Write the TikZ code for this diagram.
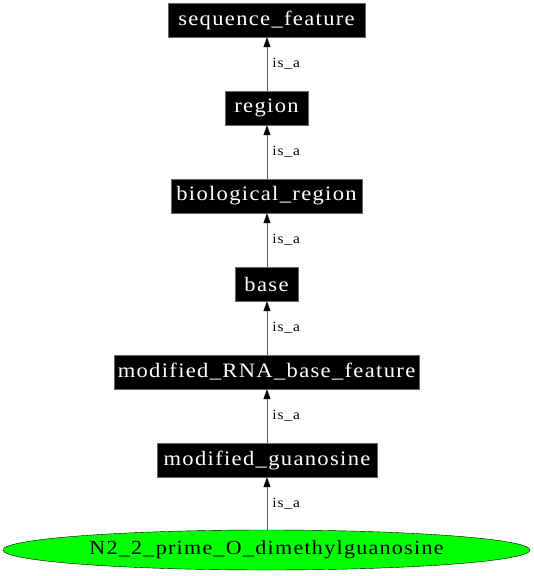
\documentclass[tikz,border=0pt]{standalone}
\usepackage{fontspec}
\setmainfont{Liberation Serif}[FakeStretch=1.1,LetterSpace=6.5]
\usetikzlibrary{arrows.meta,shapes.geometric}
\begin{document}
\begin{tikzpicture}[x=1pt,y=-1pt,
  termbox/.style={rectangle,fill=black,draw=black!60,text=white,font=\fontsize{20.5}{23}\selectfont,minimum height=34pt,inner sep=0pt},
  leafnode/.style={ellipse,fill=green,draw=black,font=\fontsize{20}{23}\selectfont,minimum width=527pt,minimum height=40pt,inner sep=0pt},
  isaedge/.style={draw=black!65,line width=0.9pt,-{Triangle[length=10pt,width=7pt,color=black]}},
  isalabel/.style={font=\fontsize{14}{16}\selectfont,anchor=west,inner sep=0pt}]
\useasboundingbox (0,0) rectangle (534,576);
\node[termbox,minimum width=197pt] (sf) at (266.5,20) {sequence\_feature};
\node[termbox,minimum width=83pt] (rg) at (266.5,108) {region};
\node[termbox,minimum width=191pt] (br) at (266.5,196) {biological\_region};
\node[termbox,minimum width=63pt] (bs) at (266.5,284) {base};
\node[termbox,minimum width=305pt] (mr) at (266.5,372) {modified\_RNA\_base\_feature};
\node[termbox,minimum width=220pt] (mg) at (267,460) {modified\_guanosine};
\node[leafnode] (n2) at (266.5,550) {N2\_2\_prime\_O\_dimethylguanosine};
\draw[isaedge] (rg.north -| 267,0) -- (sf.south -| 267,0) node[isalabel,pos=0.5,xshift=5pt] {is\_a};
\draw[isaedge] (br.north -| 267,0) -- (rg.south -| 267,0) node[isalabel,pos=0.5,xshift=5pt] {is\_a};
\draw[isaedge] (bs.north -| 267,0) -- (br.south -| 267,0) node[isalabel,pos=0.5,xshift=5pt] {is\_a};
\draw[isaedge] (mr.north -| 267,0) -- (bs.south -| 267,0) node[isalabel,pos=0.5,xshift=5pt] {is\_a};
\draw[isaedge] (mg.north -| 267,0) -- (mr.south -| 267,0) node[isalabel,pos=0.5,xshift=5pt] {is\_a};
\draw[isaedge] (n2.north -| 267,0) -- (mg.south -| 267,0) node[isalabel,pos=0.5,xshift=5pt] {is\_a};
\end{tikzpicture}
\end{document}
